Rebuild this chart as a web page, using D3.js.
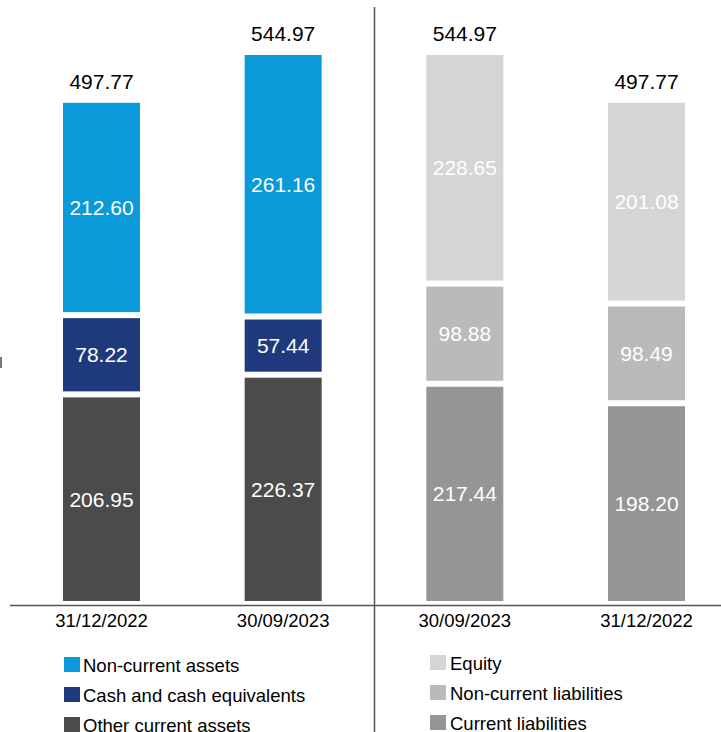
<!DOCTYPE html>
<html>
<head>
<meta charset="utf-8">
<script src="https://cdn.jsdelivr.net/npm/d3@7"></script>
<style>
  body { margin: 0; background: #fff; }
</style>
</head>
<body>
<div id="chart"></div>
<script>
// Balance sheet data
const dates = ['31/12/2022', '30/09/2023', '30/09/2023', '31/12/2022'];
const totals = [497.77, 544.97, 544.97, 497.77];

// assets side (first two columns), bottom to top
const otherCurrentAssets = [206.95, 226.37];
const cashEquivalents = [78.22, 57.44];
const nonCurrentAssets = [212.60, 261.16];

// liabilities side (last two columns), bottom to top
const currentLiabilities = [217.44, 198.20];
const nonCurrentLiabilities = [98.88, 98.49];
const equity = [228.65, 201.08];

const assetNames = ['Non-current assets', 'Cash and cash equivalents', 'Other current assets'];
const liabNames = ['Equity', 'Non-current liabilities', 'Current liabilities'];
const assetColors = ['#0a9ad9', '#1f3a7c', '#4b4b4b'];
const liabColors = ['#d5d5d5', '#bababa', '#959595'];

// one row per column: s0 bottom, s1 middle, s2 top
let rows = [];
for (let i = 0; i < 2; i++) {
  rows.push({ idx: i, side: 'a', s0: otherCurrentAssets[i], s1: cashEquivalents[i], s2: nonCurrentAssets[i] });
}
for (let i = 0; i < 2; i++) {
  rows.push({ idx: i + 2, side: 'l', s0: currentLiabilities[i], s1: nonCurrentLiabilities[i], s2: equity[i] });
}
const colorOf = (side, key) => {
  const k = { s0: 2, s1: 1, s2: 0 }[key];
  return side === 'a' ? assetColors[k] : liabColors[k];
};

const width = 721;
const height = 732;
const baseline = 604;
const barWidth = 77;

const svg = d3.select('#chart').append('svg')
  .attr('width', width)
  .attr('height', height)
  .attr('font-family', 'Liberation Sans, Arial, sans-serif');

const x = d3.scalePoint()
  .domain(d3.range(dates.length))
  .range([101.5, 646.5]);

const y = d3.scaleLinear()
  .domain([0, 544.97])
  .range([baseline, 52]);

const stack = d3.stack().keys(['s0', 's1', 's2']);
const series = stack(rows);

const layer = svg.selectAll('g.layer')
  .data(series)
  .enter().append('g')
  .attr('class', 'layer');

layer.selectAll('rect')
  .data(s => s.map(d => ({ key: s.key, d: d })))
  .enter().append('rect')
  .attr('x', p => x(p.d.data.idx) - barWidth / 2)
  .attr('width', barWidth)
  .attr('y', p => y(p.d[1]) + 3)
  .attr('height', p => y(p.d[0]) - y(p.d[1]) - 6)
  .attr('fill', p => colorOf(p.d.data.side, p.key));

// values inside segments
layer.selectAll('text')
  .data(s => s.map(d => ({ key: s.key, d: d })))
  .enter().append('text')
  .attr('x', p => x(p.d.data.idx))
  .attr('y', p => (y(p.d[0]) + y(p.d[1])) / 2)
  .attr('dy', '0.36em')
  .attr('text-anchor', 'middle')
  .attr('font-size', 21)
  .attr('fill', '#fff')
  .text(p => (p.d[1] - p.d[0]).toFixed(2));

// totals above bars
svg.selectAll('text.total')
  .data(totals)
  .enter().append('text')
  .attr('class', 'total')
  .attr('x', (d, i) => x(i))
  .attr('y', d => y(d) - 11)
  .attr('text-anchor', 'middle')
  .attr('font-size', 21)
  .attr('fill', '#000')
  .text(d => d.toFixed(2));

// x axis line
svg.append('line')
  .attr('x1', 10).attr('x2', width)
  .attr('y1', baseline + 1.5).attr('y2', baseline + 1.5)
  .attr('stroke', '#555').attr('stroke-width', 1.5);

// divider between assets and liabilities
svg.append('line')
  .attr('x1', 374.5).attr('x2', 374.5)
  .attr('y1', 7).attr('y2', height)
  .attr('stroke', '#555').attr('stroke-width', 1.5);

// small mark on the left edge
svg.append('rect')
  .attr('x', 0).attr('y', 357).attr('width', 2).attr('height', 11)
  .attr('fill', '#777');

// date labels
svg.selectAll('text.date')
  .data(dates)
  .enter().append('text')
  .attr('class', 'date')
  .attr('x', (d, i) => x(i))
  .attr('y', 627)
  .attr('text-anchor', 'middle')
  .attr('font-size', 18.5)
  .attr('fill', '#000')
  .text(d => d);

// legends
const legends = [
  { x: 64, tx: 83, y0: 665, names: assetNames, colors: assetColors },
  { x: 430, tx: 450, y0: 663, names: liabNames, colors: liabColors }
];
legends.forEach(lg => {
  const g = svg.append('g');
  g.selectAll('rect')
    .data(lg.names)
    .enter().append('rect')
    .attr('x', lg.x)
    .attr('y', (d, i) => lg.y0 + i * 30 - 8)
    .attr('width', 16)
    .attr('height', 15)
    .attr('fill', (d, i) => lg.colors[i]);
  g.selectAll('text')
    .data(lg.names)
    .enter().append('text')
    .attr('x', lg.tx)
    .attr('y', (d, i) => lg.y0 + i * 30)
    .attr('dy', '0.36em')
    .attr('font-size', 18.5)
    .attr('fill', '#000')
    .text(d => d);
});
</script>
</body>
</html>
